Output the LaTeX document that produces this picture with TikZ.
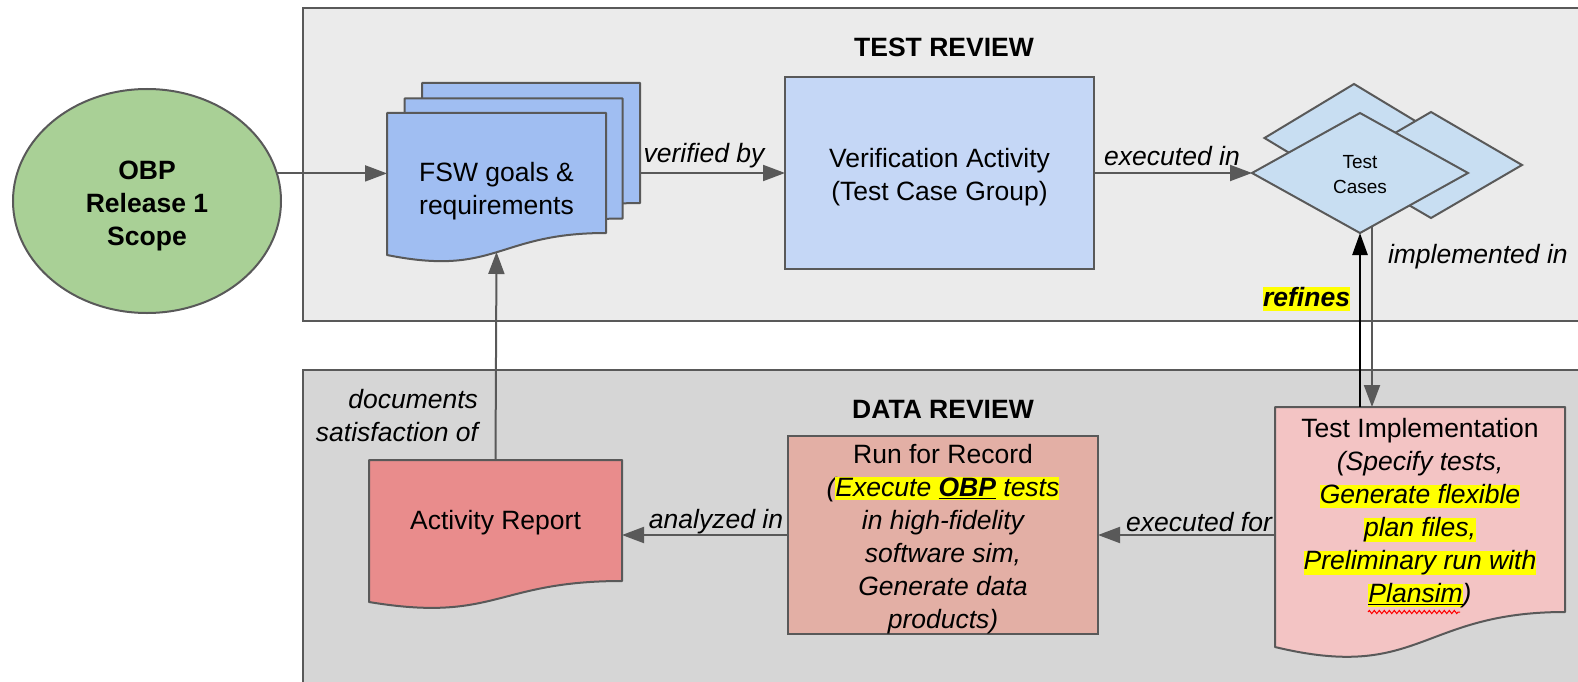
\documentclass[tikz,border=0pt]{standalone}
\usepackage{fontspec}
\setmainfont{Liberation Sans}
\usetikzlibrary{arrows.meta,shapes.geometric,calc,decorations.pathmorphing}

\definecolor{lineg}{HTML}{595959}
\definecolor{panelA}{HTML}{EBEBEB}
\definecolor{panelB}{HTML}{D6D6D6}
\definecolor{scopegreen}{HTML}{A9D096}
\definecolor{docblue}{HTML}{A0BEF2}
\definecolor{verblue}{HTML}{C5D7F6}
\definecolor{tcblue}{HTML}{C8DEF2}
\definecolor{tipink}{HTML}{F3C4C4}
\definecolor{runred}{HTML}{E3AFA5}
\definecolor{arred}{HTML}{E98C8C}
\definecolor{hly}{HTML}{FFFF00}

\pgfdeclarelayer{panel}
\pgfdeclarelayer{docs}
\pgfsetlayers{panel,docs,main}

% yellow text highlight
\newcommand\hl[1]{{\setlength{\fboxsep}{0pt}\colorbox{hly}{\rule[-4pt]{0pt}{23pt}#1}}}
% extra room above the first line, lowers a text block a little
\newcommand\topgap[1]{\rule{0pt}{#1}}

% document shape with a wavy bottom edge, drawn behind node #1
\newcommand\docshape[3]{%
  \begin{pgfonlayer}{docs}
  \path[draw=lineg, line width=2pt, line join=round, fill=#2]
    let \p1=(#1.north west), \p2=(#1.south east) in
    (\x1,\y1) -- (\x2,\y1) -- (\x2,\y2)
    .. controls ({0.5*\x1+0.5*\x2},\y2) and ({0.5*\x1+0.5*\x2},{\y2-2*#3}) ..
    (\x1,{\y2-#3}) -- cycle;
  \end{pgfonlayer}}

\begin{document}
\begin{tikzpicture}[x=1pt,y=-1pt,
  every node/.style={font=\fontsize{26.5}{33}\selectfont, inner sep=0pt, outer sep=0pt},
  arr/.style={draw=lineg, line width=2pt, -{Triangle[length=22pt,width=16pt]}},
  refarr/.style={draw=black, line width=2.6pt, -{Triangle[length=22pt,width=15pt]}},
  box/.style={rectangle, draw=lineg, line width=2pt, align=center},
  docnode/.style 2 args={rectangle, minimum width=#1pt, minimum height=#2pt, align=center},
  panelbox/.style={rectangle, draw=lineg, line width=2pt, anchor=north west},
  lbl/.style={font=\fontsize{26.5}{33}\selectfont\itshape},
  ttl/.style={font=\fontsize{26.5}{33}\selectfont\bfseries},
  dia/.style={diamond, draw=lineg, line width=2pt, fill=tcblue, align=center}]

\useasboundingbox (0,0) rectangle (1578,682);
\clip (0,0) rectangle (1578,682);

% review panels
\begin{pgfonlayer}{panel}
  \fill[white] (0,0) rectangle (1578,682);
  \node[panelbox, fill=panelA, minimum width=1320pt, minimum height=313pt] (testpanel) at (303,8) {};
  \node[panelbox, fill=panelB, minimum width=1320pt, minimum height=340pt] (datapanel) at (303,370) {};
\end{pgfonlayer}
\node[ttl] (testtitle) at (944,47) {TEST REVIEW};
\node[ttl] (datatitle) at (943,409) {DATA REVIEW};

% scope
\node[ellipse, draw=lineg, line width=2pt, fill=scopegreen, minimum width=268pt,
      minimum height=224pt, align=center, font=\fontsize{26.5}{33}\selectfont\bfseries]
      (scope) at (147,201) {\topgap{29pt}OBP\\Release 1\\Scope};

% goals & requirements (stack of documents)
\node[docnode={218}{120}] (fsw3) at (531,143) {};
\node[docnode={218}{120}] (fsw2) at (513.5,158.5) {};
\node[docnode={219}{120}] (fsw) at (496.5,173) {};
\docshape{fsw3}{docblue}{22pt}
\docshape{fsw2}{docblue}{22pt}
\docshape{fsw}{docblue}{22pt}
\node[align=center] (fswtext) at (496.5,191) {FSW goals \&\\requirements};

% verification activity
\node[box, fill=verblue, minimum width=309pt, minimum height=192pt] (verif) at (939.5,173)
  {\topgap{27pt}Verification Activity\\(Test Case Group)};

% test cases
\node[dia, minimum width=179pt, minimum height=108pt] (tc3) at (1354,138) {};
\node[dia, minimum width=182pt, minimum height=106pt] (tc2) at (1431,165) {};
\node[dia, minimum width=216pt, minimum height=120pt, font=\fontsize{19}{25}\selectfont]
  (tc) at (1360,173) {\topgap{16pt}Test\\Cases};

% test implementation
\node[docnode={290}{205}] (ti) at (1420,509.5)
  {\topgap{27pt}Test Implementation\\
   \itshape (Specify tests,\\
   \hl{\itshape Generate flexible}\\
   \hl{\itshape plan files,}\\
   \hl{\itshape Preliminary run with}\\
   \hl{\itshape\underline{Plansim}}\itshape )};
\docshape{ti}{tipink}{35pt}
\draw[red, line width=1pt, decorate, decoration={zigzag, segment length=5pt, amplitude=1.6pt}]
  (1368,612) -- (1460,612);

% run for record
\node[box, fill=runred, minimum width=310pt, minimum height=192pt] (run) at (943,535)
  {\topgap{27pt}Run for Record\\
   \itshape (\hl{\itshape Execute \textbf{\underline{OBP}} tests}\\
   \itshape in high-fidelity\\
   \itshape software sim,\\
   \itshape Generate data\\
   \itshape products)};

% activity report
\node[docnode={253}{121}] (ar) at (495.5,520.5) {\topgap{23pt}Activity Report};
\docshape{ar}{arred}{21pt}

% connectors
\draw[arr] (scope.12) -- (scope.12 -| fsw.west);
\draw[arr] (fsw3.east |- verif.west) -- (verif.west);
\draw[arr] (verif.east) -- (verif.east -| tc.west);
\draw[arr] ([xshift=12pt,yshift=7pt]tc.south) -- ([xshift=12pt]tc.south |- ti.north);
\draw[refarr] (tc.south |- ti.north) -- (tc.south);
\draw[arr] (ti.west |- run.east) -- (run.east);
\draw[arr] (run.west) -- (ar.east |- run.west);
\coordinate (fswbot) at ([yshift=-19pt]fsw.south);
\draw[arr] (ar.north) -- (fswbot);

% connector labels
\node[lbl] (vbl) at (704,156) {verified by};
\node[lbl] (exl) at (1172,156) {executed in};
\node[lbl, anchor=west] (iml) at (1388,257) {implemented in};
\node[font=\fontsize{26.5}{33}\selectfont\bfseries\itshape, anchor=east] (rfl) at (1350,299) {\hl{refines}};
\node[lbl] (efl) at (1199,522) {executed for};
\node[lbl] (anl) at (716,522) {analyzed in};
\node[lbl, align=right, anchor=east] (dsl) at (478,416) {documents\\satisfaction of};
\end{tikzpicture}
\end{document}
